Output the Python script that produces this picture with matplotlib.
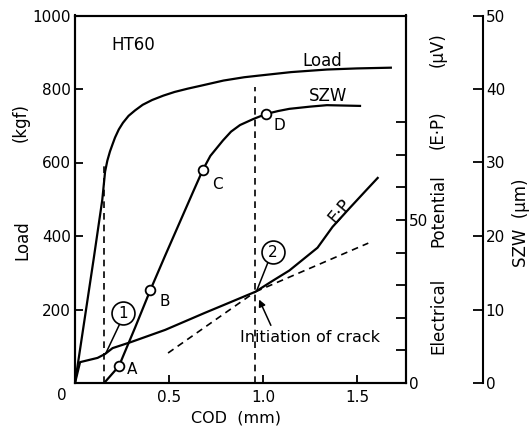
import matplotlib.pyplot as plt
import numpy as np

plt.rcParams['font.family'] = ['DejaVu Sans']

# 荷重曲线 (COD mm, kgf)
load_cod = [0, 0.05, 0.10, 0.145, 0.16, 0.172, 0.186, 0.20, 0.213, 0.233, 0.255, 0.285, 0.32, 0.36, 0.41,
            0.47, 0.53, 0.60, 0.67, 0.79, 0.90, 0.97, 1.15, 1.34, 1.50, 1.68]
load_kgf = [0, 170, 340, 498, 575, 605, 630, 650, 668, 690, 708, 727, 742, 757, 770,
            782, 792, 801, 809, 823, 832, 836, 846, 853, 856, 858]

# SZW 曲线 (µm)
szw_cod = [0.155, 0.234, 0.255, 0.319, 0.40, 0.479, 0.628, 0.68, 0.72, 0.787, 0.83, 0.878, 0.947,
           1.016, 1.08, 1.14, 1.25, 1.34, 1.516]
szw_um = [0, 2.3, 3.6, 7.5, 12.6, 17.3, 26.0, 29.0, 30.9, 33.0, 34.2, 35.1, 35.9,
          36.6, 37.0, 37.3, 37.6, 37.8, 37.7]
pt_cod = [0.234, 0.40, 0.68, 1.016]
pt_um = [2.3, 12.6, 29.0, 36.6]
pt_names = ['A', 'B', 'C', 'D']

# 电位 E·P (µV)
ep_cod = [0, 0.027, 0.12, 0.16, 0.20, 0.30, 0.48, 0.69, 0.79, 0.96, 1.05, 1.14, 1.20, 1.29, 1.37, 1.46, 1.55, 1.61]
ep_uv = [0, 6.4, 7.7, 8.9, 10.7, 12.6, 16.3, 21.5, 23.9, 28.0, 31.3, 34.5, 37.3, 41.5, 47.9, 53.6, 59.2, 62.9]

# 切线 (虚线)
tan1_cod = [0.495, 0.96]
tan1_uv = [9.2, 28.0]
tan2_cod = [0.96, 1.56]
tan2_uv = [28.0, 42.9]

W, H = 531, 428
fig = plt.figure(figsize=(W / 100, H / 100), dpi=100)
x0, x1, y0, y1 = 75, 406, 383, 15.5
ax = fig.add_axes([x0 / W, 1 - y0 / H, (x1 - x0) / W, (y0 - y1) / H])

lw = 1.6
ax.plot(load_cod, load_kgf, color='black', lw=lw)
ax.set_xlim(0, (x1 - x0) / 188)
ax.set_ylim(0, 1000)
ax.set_xticks([0.5, 1.0, 1.5])
ax.set_xticklabels(['0.5', '1.0', '1.5'])
ax.set_yticks([200, 400, 600, 800, 1000])
ax.tick_params(axis='both', direction='in', length=6, width=1.3, labelsize=11)
ax.tick_params(axis='x', pad=5)
ax.tick_params(axis='y', pad=3)
for s in ax.spines.values():
    s.set_linewidth(1.5)

# 竖虚线
ax.plot([0.155, 0.155], [0, 590], color='black', lw=1.2, ls=(0, (4, 3)))
ax.plot([0.96, 0.96], [0, 805], color='black', lw=1.2, ls=(0, (4, 3)))

# E·P 轴
ax2 = ax.twinx()
ax2.plot(ep_cod, ep_uv, color='black', lw=lw)
ax2.plot(tan1_cod, tan1_uv, color='black', lw=1.2, ls=(0, (4, 3)))
ax2.plot(tan2_cod, tan2_uv, color='black', lw=1.2, ls=(0, (4, 3)))
ax2.set_ylim(0, (y0 - y1) / 3.26)
ax2.set_yticks(np.arange(0, 90, 10))
ax2.set_yticklabels(['0', '', '', '', '', '50', '', '', ''])
ax2.tick_params(axis='y', direction='in', length=7, width=1.3, labelsize=11, pad=2)
for s in ax2.spines.values():
    s.set_linewidth(1.5)

# SZW 轴
ax3 = ax.twinx()
ax3.spines['right'].set_position(('axes', (483 - x0) / (x1 - x0)))
for k in ['top', 'left', 'bottom']:
    ax3.spines[k].set_visible(False)
ax3.spines['right'].set_linewidth(1.5)
ax3.set_ylim(0, (y0 - y1) / 7.38)
ax3.spines['right'].set_bounds(0, 50)
ax3.set_yticks([0, 10, 20, 30, 40, 50])
ax3.tick_params(axis='y', direction='in', length=7, width=1.3, labelsize=11, pad=2)
ax3.plot(szw_cod, szw_um, color='black', lw=lw)
ax3.plot(pt_cod, pt_um, 'o', ms=7, mfc='white', mec='black', mew=1.3)
lab_pos = [(0.303, 1.8), (0.479, 11.1), (0.755, 27.0), (1.085, 35.0)]
for name, (px, py) in zip(pt_names, lab_pos):
    ax3.text(px, py, name, fontsize=11, ha='center', va='center')

# 标注
ax.text(0.31, 920, 'HT60', fontsize=12, ha='center', va='center')
ax.text(1.314, 876, 'Load', fontsize=12, ha='center', va='center')
ax.text(1.346, 780, 'SZW', fontsize=12, ha='center', va='center')
ax.text(1.41, 468, 'E·P', fontsize=12, ha='center', va='center', rotation=50)
ax.text(1.25, 124, 'Initiation of crack', fontsize=11.5, ha='center', va='center')

ax.plot([0.24, 0.165], [163, 82], color='black', lw=1.1)
ax.plot([1.027, 0.968], [329, 253], color='black', lw=1.1)
ax.plot([0.255], [190], 'o', ms=16.5, mfc='white', mec='black', mew=1.2)
ax.text(0.255, 190, '1', fontsize=11, ha='center', va='center')
ax.plot([1.053], [356], 'o', ms=16.5, mfc='white', mec='black', mew=1.2)
ax.text(1.053, 356, '2', fontsize=11, ha='center', va='center')
ax.annotate('', xy=(0.973, 234), xytext=(1.048, 150),
            arrowprops=dict(arrowstyle='-|>', color='black', lw=1.1, mutation_scale=10))

# 轴标题
fig.text(62 / W, 1 - 396 / H, '0', fontsize=11, ha='center', va='center')
fig.text(236 / W, 1 - 418 / H, 'COD  (mm)', fontsize=11.5, ha='center', va='center')
fig.text(22 / W, 1 - 240 / H, 'Load', fontsize=12, ha='center', va='center', rotation=90)
fig.text(21 / W, 1 - 123 / H, '(kgf)', fontsize=12, ha='center', va='center', rotation=90)
for txt, yc in [('Electrical', 316), ('Potential', 211), ('(E·P)', 130), ('(µV)', 50)]:
    fig.text(438 / W, 1 - yc / H, txt, fontsize=12, ha='center', va='center', rotation=90)
fig.text(521 / W, 1 - 223 / H, 'SZW  (µm)', fontsize=12, ha='center', va='center', rotation=90)

fig.savefig('out.png', dpi=100)
